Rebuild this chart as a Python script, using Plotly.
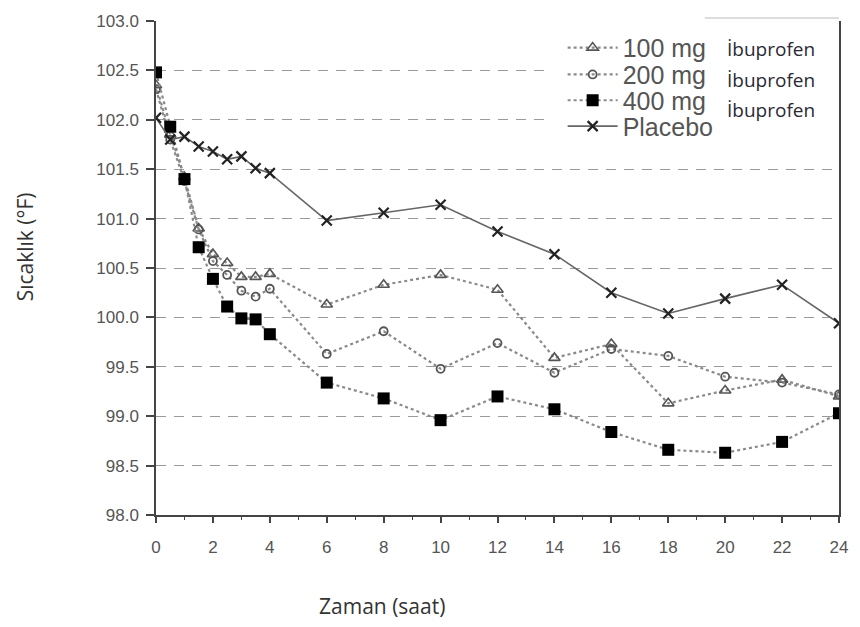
import plotly.graph_objects as go

# Data
hours = [0, 0.5, 1, 1.5, 2, 2.5, 3, 3.5, 4, 6, 8, 10, 12, 14, 16, 18, 20, 22, 24]
ibu100 = [102.35, 101.85, 101.42, 100.90, 100.64, 100.55, 100.41, 100.41, 100.44,
          100.13, 100.33, 100.43, 100.28, 99.59, 99.73, 99.13, 99.26, 99.37, 99.20]
ibu200 = [102.31, 101.80, 101.38, 100.89, 100.57, 100.43, 100.27, 100.21, 100.29,
          99.63, 99.86, 99.48, 99.74, 99.44, 99.68, 99.61, 99.40, 99.34, 99.22]
ibu400 = [102.48, 101.93, 101.40, 100.71, 100.39, 100.11, 99.99, 99.98, 99.83,
          99.34, 99.18, 98.96, 99.20, 99.07, 98.84, 98.66, 98.63, 98.74, 99.03]
placebo = [102.02, 101.80, 101.83, 101.73, 101.68, 101.60, 101.63, 101.51, 101.46,
           100.98, 101.06, 101.14, 100.87, 100.64, 100.25, 100.04, 100.19, 100.33, 99.94]

series_names = ["100 mg", "200 mg", "400 mg", "Placebo"]
suffix = "İbuprofen"
x_ticks = list(range(0, 25, 2))
y_ticks = [98.0, 98.5, 99.0, 99.5, 100.0, 100.5, 101.0, 101.5, 102.0, 102.5, 103.0]
x_title = "Zaman (saat)"
y_title = "Sıcaklık (°F)"

W, H = 860, 627
L, T = 156, 18
R = W - 848
B = H - 515
pw, ph = W - L - R, H - T - B

def px(xw):
    return (xw - L) / pw

def py(yw):
    return 1 - (yw - T) / ph

fig = go.Figure()
dot_line = dict(color="#8a8a8a", width=2.2, dash="dot")
fig.add_trace(go.Scatter(x=hours, y=ibu100, name=series_names[0], mode="lines+markers",
                         line=dot_line, legend="legend",
                         marker=dict(symbol="triangle-up-open", size=10, color="#555",
                                     line=dict(width=1.6, color="#555"))))
fig.add_trace(go.Scatter(x=hours, y=ibu200, name=series_names[1], mode="lines+markers",
                         line=dot_line, legend="legend2",
                         marker=dict(symbol="circle-open", size=8, color="#555",
                                     line=dict(width=1.8, color="#555"))))
fig.add_trace(go.Scatter(x=hours, y=ibu400, name=series_names[2], mode="lines+markers",
                         line=dot_line, legend="legend3",
                         marker=dict(symbol="square", size=12, color="#000")))
fig.add_trace(go.Scatter(x=hours, y=placebo, name=series_names[3], mode="lines+markers",
                         line=dict(color="#666", width=1.6), legend="legend4",
                         marker=dict(symbol="x-thin-open", size=10, color="#222",
                                     line=dict(width=2.2, color="#222"))))

axis_font = dict(family="Liberation Sans, Arial, sans-serif", size=17, color="#555")

fig.update_xaxes(range=[0, 24], tickvals=x_ticks, ticktext=[str(v) for v in x_ticks],
                 showgrid=False, zeroline=False, showline=True, linecolor="#444", linewidth=1.5,
                 ticks="outside", ticklen=6, tickwidth=1.5, tickcolor="#444",
                 minor=dict(tickvals=list(range(1, 24, 2)), ticks="outside", ticklen=3,
                            tickwidth=1.2, tickcolor="#444", showgrid=False),
                 tickfont=axis_font, ticklabelstandoff=10, ticklabeloverflow="allow")
fig.update_yaxes(range=[98, 103], tickvals=y_ticks, ticktext=[f"{v:.1f}" for v in y_ticks],
                 showgrid=True, gridcolor="#9a9a9a", gridwidth=1.3, griddash="10px,8px",
                 zeroline=False, showline=True, linecolor="#444", linewidth=1.5, mirror=True,
                 ticks="outside", ticklen=8, tickwidth=1.5, tickcolor="#444",
                 tickfont=axis_font, ticklabelstandoff=4)

legend_font = dict(family="Liberation Sans, Arial, sans-serif", size=25, color="#555")
legend_rows = [45, 72, 98, 124]
legends = {}
for i, yy in enumerate(legend_rows):
    key = "legend" if i == 0 else f"legend{i + 1}"
    legends[key] = dict(x=px(568), y=py(yy), xanchor="left", yanchor="middle",
                        bgcolor="rgba(0,0,0,0)", borderwidth=0, font=legend_font,
                        itemwidth=50)

fig.update_layout(
    width=W, height=H,
    margin=dict(l=L, r=R, t=T, b=B, pad=0),
    plot_bgcolor="white", paper_bgcolor="white",
    showlegend=True,
    **legends,
    shapes=[
        dict(type="rect", xref="paper", yref="paper", x0=px(556), x1=px(846), y0=py(140), y1=py(19),
             fillcolor="white", line=dict(width=0), layer="above"),
        dict(type="line", xref="paper", yref="paper", x0=px(712), x1=px(848), y0=py(15), y1=py(15),
             line=dict(color="#bbb", width=1.2), layer="above"),
    ],
    annotations=[
        dict(text=suffix, xref="paper", yref="paper", x=px(733), y=py(yy), xanchor="left",
             yanchor="middle", showarrow=False,
             font=dict(family="Open Sans, sans-serif", size=19, color="#2a2a35"))
        for yy in (46, 77, 108)
    ] + [
        dict(text=x_title, xref="paper", yref="paper", x=px(385), y=py(607), xanchor="center",
             yanchor="middle", showarrow=False,
             font=dict(family="Open Sans, sans-serif", size=21, color="#333")),
        dict(text=y_title, xref="paper", yref="paper", x=px(23), y=py(245), xanchor="center",
             yanchor="middle", showarrow=False, textangle=-90,
             font=dict(family="Open Sans, sans-serif", size=21, color="#333")),
    ],
)

fig.write_html("out.html", config={"displayModeBar": False},
               post_script="document.body.style.margin='0';")
